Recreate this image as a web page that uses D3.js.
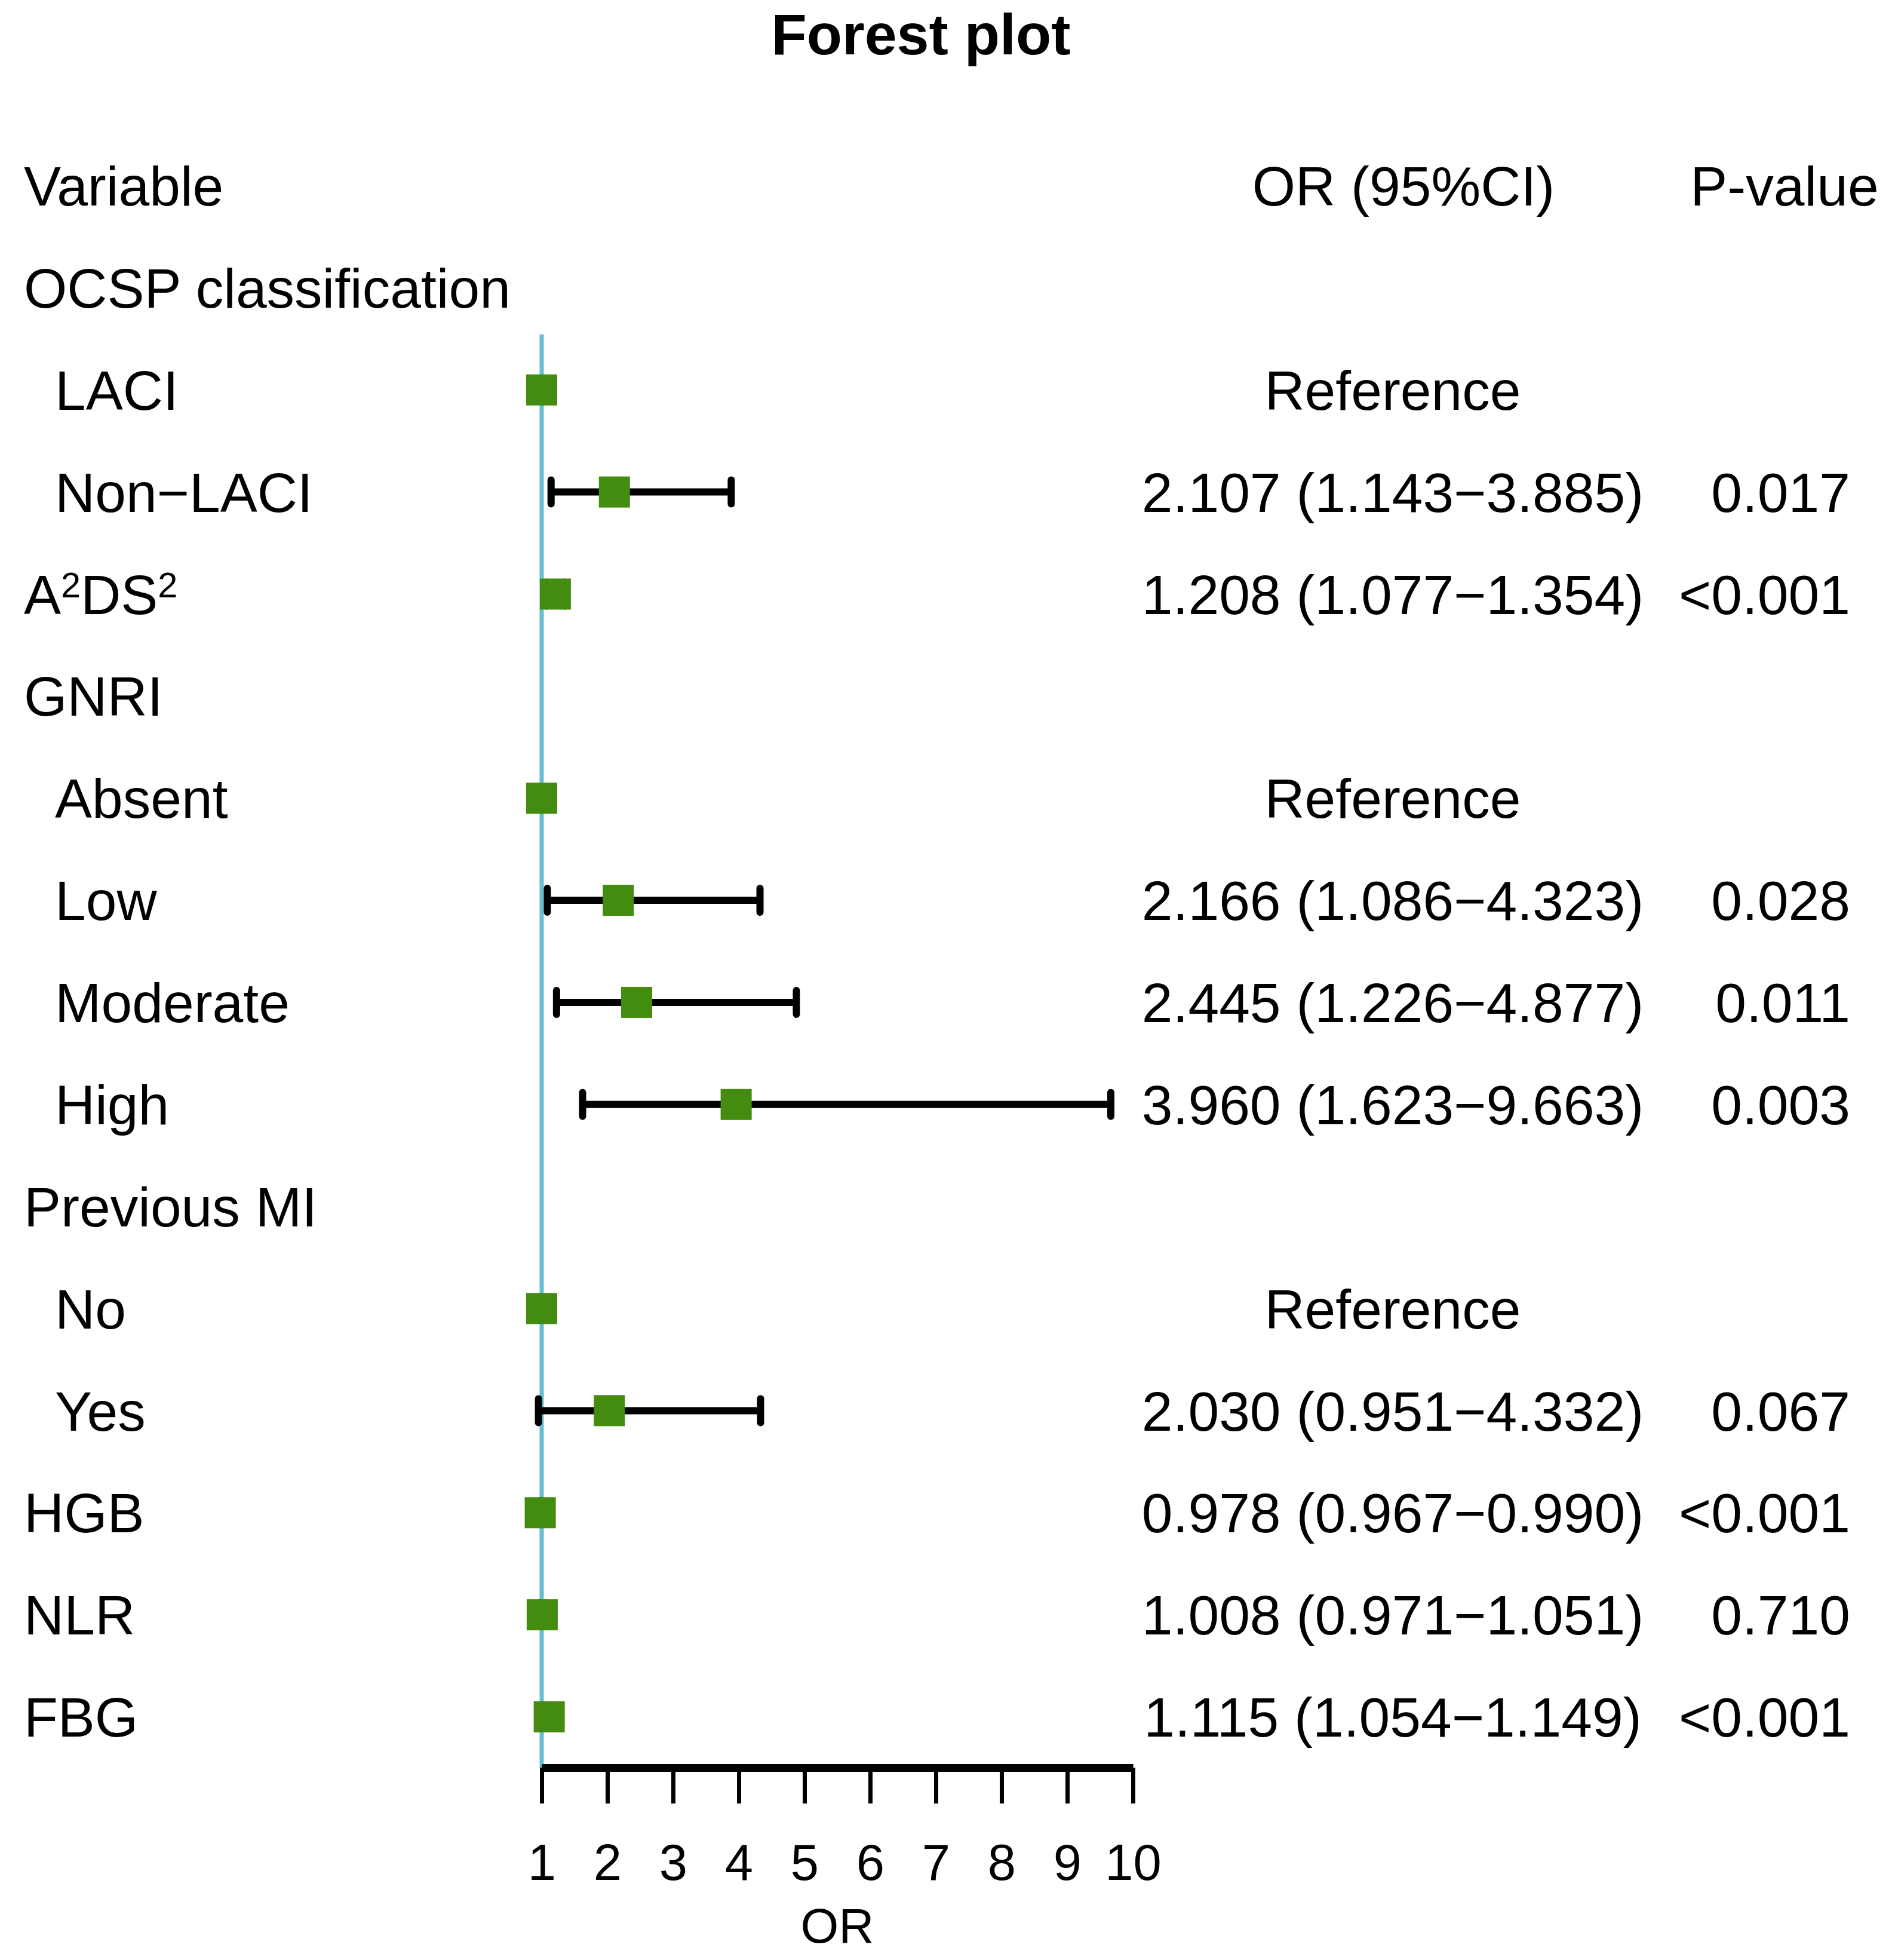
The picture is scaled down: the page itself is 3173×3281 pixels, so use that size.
<!DOCTYPE html>
<html><head><meta charset="utf-8">
<script src="https://cdn.jsdelivr.net/npm/d3@7"></script>
<style>
body{margin:0;background:#fff}
text{font-family:"Liberation Sans",Arial,Helvetica,sans-serif;fill:#000}
</style>
</head><body>
<svg id="chart" width="3173" height="3281"></svg>
<script>
// ---- data ----
const variables = ["OCSP classification","LACI","Non\u2212LACI","A\u00B2DS\u00B2","GNRI","Absent","Low","Moderate","High","Previous MI","No","Yes","HGB","NLR","FBG"];
const indentLevel = [0,1,1,0,0,1,1,1,1,0,1,1,0,0,0];
const orValues = [null,1,2.107,1.208,null,1,2.166,2.445,3.960,null,1,2.030,0.978,1.008,1.115];
const lowerCI  = [null,1,1.143,1.077,null,1,1.086,1.226,1.623,null,1,0.951,0.967,0.971,1.054];
const upperCI  = [null,1,3.885,1.354,null,1,4.323,4.877,9.663,null,1,4.332,0.990,1.051,1.149];
const isReference = [false,true,false,false,false,true,false,false,false,false,true,false,false,false,false];
const orLabels = ["","Reference","2.107 (1.143\u22123.885)","1.208 (1.077\u22121.354)","","Reference",
  "2.166 (1.086\u22124.323)","2.445 (1.226\u22124.877)","3.960 (1.623\u22129.663)","","Reference",
  "2.030 (0.951\u22124.332)","0.978 (0.967\u22120.990)","1.008 (0.971\u22121.051)","1.115 (1.054\u22121.149)"];
const pLabels = ["","","0.017","<0.001","","","0.028","0.011","0.003","","","0.067","<0.001","0.710","<0.001"];
const headers = ["Variable","OR (95%CI)","P-value"];
const xTicks = [1,2,3,4,5,6,7,8,9,10];
const title = "Forest plot";
const xLabel = "OR";

// ---- layout ----
const FS = 93;
const rows = variables.map((v,i)=>({v, ind:indentLevel[i], or:orValues[i], lo:lowerCI[i], hi:upperCI[i],
  ref:isReference[i], orl:orLabels[i], p:pLabels[i], idx:i+1}));
const svg = d3.select("#chart");
const x = d3.scaleLinear().domain([1,10]).range([907,1897]);
const y = d3.scaleLinear().domain([0,15]).range([311,2874]);
const capOff = FS*0.356;
const axisY = 2959;

// title
svg.append("text").attr("x",1542).attr("y",91).attr("text-anchor","middle")
  .attr("font-size",97).attr("font-weight","bold").text(title);

// headers
svg.append("text").attr("x",40).attr("y",y(0)+capOff).attr("font-size",FS).text(headers[0]);
svg.append("text").attr("x",2350).attr("y",y(0)+capOff).attr("font-size",FS).attr("text-anchor","middle").text(headers[1]);
svg.append("text").attr("x",2988).attr("y",y(0)+capOff).attr("font-size",FS).attr("text-anchor","middle").text(headers[2]);

// variable labels (superscript "²" drawn as a raised, smaller 2)
svg.append("g").selectAll("text").data(rows).join("text")
  .attr("x",d=>d.ind?92:40).attr("y",d=>y(d.idx)+capOff).attr("font-size",FS)
  .each(function(d){
    const t = d3.select(this);
    const parts = d.v.split(/(\u00B2)/).filter(s=>s.length);
    let raised = false;
    parts.forEach(p=>{
      if(p==="\u00B2"){
        t.append("tspan").attr("font-size",FS*0.64).attr("dy",-28).text("2");
        raised = true;
      } else {
        const ts = t.append("tspan").text(p);
        if(raised){ ts.attr("dy",28); raised=false; }
      }
    });
  });
// OR labels
svg.append("g").selectAll("text").data(rows.filter(d=>d.orl)).join("text")
  .attr("x",2332).attr("y",d=>y(d.idx)+capOff).attr("font-size",FS).attr("text-anchor","middle").text(d=>d.orl);
// p labels
svg.append("g").selectAll("text").data(rows.filter(d=>d.p)).join("text")
  .attr("x",3098).attr("y",d=>y(d.idx)+capOff).attr("font-size",FS).attr("text-anchor","end").text(d=>d.p);

// zero line
const plotted = rows.filter(d=>d.or!=null);
svg.append("line").attr("x1",x(1)).attr("x2",x(1))
  .attr("y1",y(d3.min(plotted,d=>d.idx))-93).attr("y2",axisY)
  .attr("stroke","#66bfd1").attr("stroke-width",7);

// CI lines
const ci = svg.append("g").attr("stroke","#000").attr("stroke-linecap","round");
const ciRows = plotted.filter(d=>!d.ref);
ci.selectAll("line.h").data(ciRows).join("line").attr("class","h")
  .attr("x1",d=>x(d.lo)).attr("x2",d=>x(d.hi)).attr("y1",d=>y(d.idx)).attr("y2",d=>y(d.idx))
  .attr("stroke-width",12).attr("stroke-linecap","butt");
ci.selectAll("line.lc").data(ciRows).join("line").attr("class","lc")
  .attr("x1",d=>x(d.lo)).attr("x2",d=>x(d.lo)).attr("y1",d=>y(d.idx)-20).attr("y2",d=>y(d.idx)+20)
  .attr("stroke-width",12);
ci.selectAll("line.uc").data(ciRows).join("line").attr("class","uc")
  .attr("x1",d=>x(d.hi)).attr("x2",d=>x(d.hi)).attr("y1",d=>y(d.idx)-20).attr("y2",d=>y(d.idx)+20)
  .attr("stroke-width",12);

// boxes
const B = 52;
svg.append("g").selectAll("rect").data(plotted).join("rect")
  .attr("x",d=>x(d.or)-B/2).attr("y",d=>y(d.idx)-B/2).attr("width",B).attr("height",B)
  .attr("fill","#438c10");

// axis
const ax = svg.append("g").attr("transform",`translate(0,${axisY})`)
  .call(d3.axisBottom(x).tickValues(xTicks).tickFormat(d3.format("d")).tickSize(60).tickSizeOuter(0).tickPadding(68));
ax.select(".domain").attr("stroke","#000").attr("stroke-width",13);
ax.selectAll(".tick line").attr("stroke","#000").attr("stroke-width",7);
ax.selectAll(".tick text").attr("font-size",85).attr("font-family","'Liberation Sans',Arial,sans-serif").attr("fill","#000");

svg.append("text").attr("x",(x(1)+x(10))/2).attr("y",3252).attr("text-anchor","middle")
  .attr("font-size",82).text(xLabel);
</script>
</body></html>
